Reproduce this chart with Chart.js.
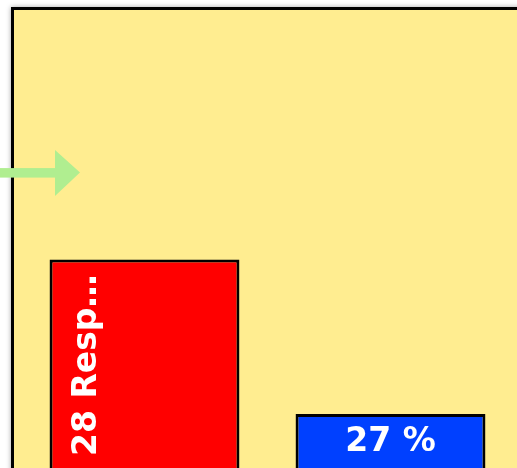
<!DOCTYPE html>
<html>
<head>
<meta charset="utf-8">
<script src="https://cdn.jsdelivr.net/npm/chart.js@4"></script>
<style>
    html, body { margin: 0; padding: 0; background: #fff; overflow: hidden; }
    canvas { display: block; }
</style>
</head>
<body>
<canvas id="chart" width="517" height="468"></canvas>
<script>
// chart values
const categories = ['28 Responses', '27 %'];
const values = [45.5, 11.8];
const barColors = ['#ff0000', '#0040ff'];
const arrowValue = 64.5;

const FONT = 'bold 33px "DejaVu Sans"';

// yellow panel with black frame behind the chart
const panelPlugin = {
    id: 'panel',
    beforeDraw(chart) {
        const ctx = chart.ctx;
        ctx.save();
        ctx.fillStyle = '#ffffff';
        ctx.fillRect(0, 0, chart.width, chart.height);
        ctx.shadowColor = 'rgba(0, 0, 0, 0.35)';
        ctx.shadowBlur = 5;
        ctx.fillStyle = '#ffed90';
        ctx.fillRect(11, 7, 700, 700);
        ctx.shadowColor = 'transparent';
        ctx.lineWidth = 3;
        ctx.strokeStyle = '#000000';
        ctx.strokeRect(12.5, 8.5, 700, 700);
        ctx.restore();
    }
};

// labels inside bars, rotated and shortened when they do not fit
const barLabelPlugin = {
    id: 'barLabels',
    afterDatasetsDraw(chart) {
        const ctx = chart.ctx;
        const area = chart.chartArea;
        const meta = chart.getDatasetMeta(0);
        ctx.save();
        ctx.font = FONT;
        ctx.fillStyle = '#ffffff';
        meta.data.forEach((bar, i) => {
            let text = categories[i];
            const left = bar.x - bar.width / 2;
            if (ctx.measureText(text).width > bar.width - 20) {
                const start = area.bottom - 12;
                const limit = start - (bar.y + 8);
                if (ctx.measureText(text).width > limit) {
                    while (text.length && ctx.measureText(text + '\u2026').width > limit) {
                        text = text.slice(0, -1);
                    }
                    text = text + '\u2026';
                }
                ctx.save();
                ctx.translate(left + 46.5, start);
                ctx.rotate(-Math.PI / 2);
                ctx.textAlign = 'left';
                ctx.textBaseline = 'alphabetic';
                ctx.fillText(text, 0, 0);
                ctx.restore();
            } else {
                ctx.textAlign = 'center';
                ctx.textBaseline = 'alphabetic';
                ctx.fillText(text, bar.x, bar.y + 37);
            }
        });
        ctx.restore();
    }
};

// green pointer arrow on the left edge
const arrowPlugin = {
    id: 'arrow',
    afterDraw(chart) {
        const ctx = chart.ctx;
        const y = chart.scales.y.getPixelForValue(arrowValue);
        ctx.save();
        ctx.fillStyle = '#b0ee90';
        ctx.fillRect(0, y - 4.5, 56, 9.5);
        ctx.beginPath();
        ctx.moveTo(55, y - 22.7);
        ctx.lineTo(80, y);
        ctx.lineTo(55, y + 23.3);
        ctx.closePath();
        ctx.fill();
        ctx.restore();
    }
};

new Chart(document.getElementById('chart'), {
    type: 'bar',
    data: {
        labels: categories,
        datasets: [{
            data: values,
            backgroundColor: barColors,
            borderColor: '#000000',
            borderWidth: 3,
            borderSkipped: 'start',
            barPercentage: 0.772,
            categoryPercentage: 1
        }]
    },
    options: {
        responsive: false,
        animation: false,
        layout: {
            padding: { left: 21.5, top: 10, right: 3.5, bottom: 0 }
        },
        plugins: {
            legend: { display: false },
            tooltip: { enabled: false }
        },
        scales: {
            x: { display: false },
            y: { display: false, min: 0, max: 100 }
        }
    },
    plugins: [panelPlugin, barLabelPlugin, arrowPlugin]
});
</script>
</body>
</html>
